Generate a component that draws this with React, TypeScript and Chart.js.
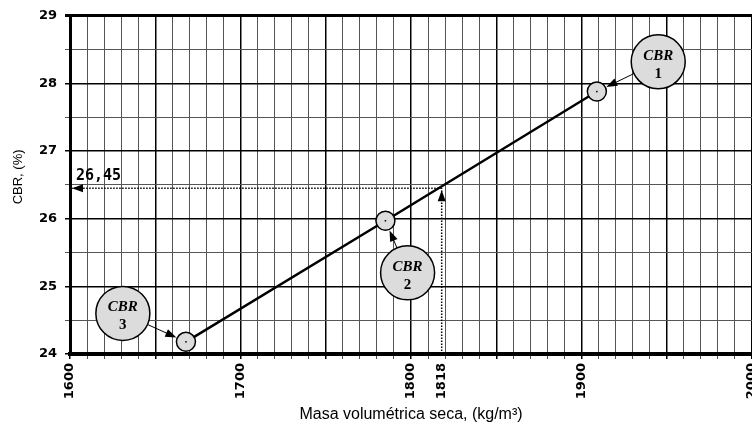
import React, { useEffect, useRef } from "react";
import { Chart, registerables } from "chart.js";

Chart.register(...registerables);

// ---- data ----
const sampleNames = ["1", "2", "3"];
const dryDensity = [1909, 1785, 1668]; // kg/m3
const cbrValues = [27.88, 25.97, 24.18]; // %
const calloutX = [1945, 1798, 1631];
const calloutY = [28.32, 25.2, 24.6];
const readX = 1818;
const readY = 26.45;
const readLabel = "26,45";
const xMin = 1600;
const xMax = 2000;
const yMin = 24;
const yMax = 29;
const xTickLabels = [1600, 1700, 1800, 1818, 1900, 2000];
const yTickLabels = [24, 25, 26, 27, 28, 29];
const yTitle = "CBR, (%)";
const xTitle = "Masa volumétrica seca, (kg/m³)";

function arrowHead(ctx: CanvasRenderingContext2D, tx: number, ty: number, ang: number, len: number, w: number) {
  ctx.beginPath();
  ctx.moveTo(tx, ty);
  ctx.lineTo(tx - len * Math.cos(ang) + w * Math.sin(ang), ty - len * Math.sin(ang) - w * Math.cos(ang));
  ctx.lineTo(tx - len * Math.cos(ang) - w * Math.sin(ang), ty - len * Math.sin(ang) + w * Math.cos(ang));
  ctx.closePath();
  ctx.fill();
}

const annotPlugin = {
  id: "annot",
  afterDatasetsDraw(chart: any) {
    const ctx: CanvasRenderingContext2D = chart.ctx;
    const xs = chart.scales.x;
    const ys = chart.scales.y;
    ctx.save();
    ctx.fillStyle = "#000";
    // y axis title
    ctx.save();
    ctx.translate(18, (chart.chartArea.top + chart.chartArea.bottom) / 2 - 8);
    ctx.rotate(-Math.PI / 2);
    ctx.font = "13px 'Liberation Sans'";
    ctx.textAlign = "center";
    ctx.textBaseline = "middle";
    ctx.fillText(yTitle, 0, 0);
    ctx.restore();
    // reading arrows
    const rx = xs.getPixelForValue(readX);
    const ry = ys.getPixelForValue(readY);
    arrowHead(ctx, rx, ry + 2, -Math.PI / 2, 11, 4);
    const lx = xs.getPixelForValue(xMin);
    arrowHead(ctx, lx + 2, ry, Math.PI, 11, 4);
    ctx.font = "bold 15px 'DejaVu Sans Mono'";
    ctx.textAlign = "left";
    ctx.textBaseline = "alphabetic";
    ctx.fillText(readLabel, lx + 6, ry - 8);
    // center dots in the points
    for (let i = 0; i < dryDensity.length; i++) {
      const px = xs.getPixelForValue(dryDensity[i]);
      const py = ys.getPixelForValue(cbrValues[i]);
      ctx.fillRect(px - 0.75, py - 0.75, 1.5, 1.5);
    }
    // callouts
    const R = 27;
    for (let i = 0; i < dryDensity.length; i++) {
      const px = xs.getPixelForValue(dryDensity[i]);
      const py = ys.getPixelForValue(cbrValues[i]);
      const cx = xs.getPixelForValue(calloutX[i]);
      const cy = ys.getPixelForValue(calloutY[i]);
      const dx = px - cx;
      const dy = py - cy;
      const d = Math.hypot(dx, dy);
      const ux = dx / d;
      const uy = dy / d;
      const sx = cx + ux * R;
      const sy = cy + uy * R;
      const ex = px - ux * 10.5;
      const ey = py - uy * 10.5;
      const ang = Math.atan2(uy, ux);
      ctx.strokeStyle = "#000";
      ctx.lineWidth = 1;
      ctx.beginPath();
      ctx.moveTo(sx, sy);
      ctx.lineTo(ex - ux * 8, ey - uy * 8);
      ctx.stroke();
      arrowHead(ctx, ex, ey, ang, 11, 4);
      ctx.beginPath();
      ctx.arc(cx, cy, R, 0, Math.PI * 2);
      ctx.fillStyle = "#dcdcdc";
      ctx.fill();
      ctx.lineWidth = 1.5;
      ctx.stroke();
      ctx.fillStyle = "#000";
      ctx.textAlign = "center";
      ctx.textBaseline = "middle";
      ctx.font = "italic bold 15px 'Liberation Serif'";
      ctx.fillText("CBR", cx, cy - 6);
      ctx.font = "bold 15px 'Liberation Serif'";
      ctx.fillText(sampleNames[i], cx, cy + 12);
    }
    ctx.restore();
  },
};

export default function App() {
  const ref = useRef<HTMLCanvasElement | null>(null);
  useEffect(() => {
    document.body.style.margin = "0";
    const canvas = ref.current!;
    const xTicks: number[] = [];
    for (let v = xMin; v <= xMax; v += 10) {
      xTicks.push(v);
      if (v === 1810) xTicks.push(readX);
    }
    const yTicks: number[] = [];
    for (let v = yMin; v <= yMax + 1e-9; v += 0.5) yTicks.push(v);

    const chart = new Chart(canvas, {
      type: "scatter",
      data: {
        datasets: [
          {
            data: [
              { x: readX, y: yMin },
              { x: readX, y: readY },
            ],
            showLine: true,
            borderColor: "#000",
            borderWidth: 1.5,
            borderDash: [1.5, 1.5],
            pointRadius: 0,
          },
          {
            data: [
              { x: readX, y: readY },
              { x: xMin, y: readY },
            ],
            showLine: true,
            borderColor: "#000",
            borderWidth: 1.5,
            borderDash: [1.5, 1.5],
            pointRadius: 0,
          },
          {
            data: dryDensity.map((x, i) => ({ x, y: cbrValues[i] })),
            showLine: true,
            borderColor: "#000",
            borderWidth: 2.5,
            pointRadius: 9.5,
            pointBackgroundColor: "#dcdcdc",
            pointBorderColor: "#000",
            pointBorderWidth: 1.5,
          },
        ],
      },
      options: {
        animation: false,
        responsive: false,
        devicePixelRatio: 1,
        layout: { autoPadding: false, padding: { top: 14, right: 0, left: 0, bottom: 0 } },
        plugins: { legend: { display: false }, tooltip: { enabled: false } },
        scales: {
          x: {
            type: "linear",
            min: xMin,
            max: xMax,
            afterBuildTicks: (s: any) => {
              s.ticks = xTicks.map((v) => ({ value: v }));
            },
            afterFit: (s: any) => {
              s.height = 69;
              s.paddingRight = 0;
              s.paddingLeft = 0;
            },
            ticks: {
              autoSkip: false,
              minRotation: 90,
              maxRotation: 90,
              padding: 4,
              color: "#000",
              font: { family: "'DejaVu Sans'", size: 13, weight: "bold" },
              callback: (v: any) => (xTickLabels.includes(Number(v)) ? String(v) : ""),
            },
            grid: {
              tickLength: 5,
              color: (c: any) => {
                const v = c.tick ? c.tick.value : 0;
                if (v === readX) return "rgba(0,0,0,0)";
                return v % 50 === 0 ? "#000" : "#555";
              },
              lineWidth: (c: any) => {
                const v = c.tick ? c.tick.value : 0;
                return v % 50 === 0 ? 1.5 : 1;
              },
            },
            border: { color: "#000", width: 4 },
            title: {
              display: true,
              text: xTitle,
              color: "#000",
              font: { family: "'Liberation Sans'", size: 16, lineHeight: 1 },
              padding: 0,
            },
          },
          y: {
            type: "linear",
            min: yMin,
            max: yMax,
            afterBuildTicks: (s: any) => {
              s.ticks = yTicks.map((v) => ({ value: v }));
            },
            afterFit: (s: any) => {
              s.width = 70;
            },
            ticks: {
              padding: 8,
              color: "#000",
              font: { family: "'DejaVu Sans'", size: 13, weight: "bold" },
              callback: (v: any) => (yTickLabels.includes(Number(v)) ? String(v) : ""),
            },
            grid: {
              tickLength: 5,
              color: (c: any) => {
                const v = c.tick ? c.tick.value : 0;
                return Number.isInteger(v) ? "#000" : "#555";
              },
              lineWidth: (c: any) => {
                const v = c.tick ? c.tick.value : 0;
                if (v === yMax) return 3;
                return Number.isInteger(v) ? 1.5 : 1;
              },
            },
            border: { color: "#000", width: 3 },
          },
        },
      },
      plugins: [annotPlugin],
    });
    return () => chart.destroy();
  }, []);
  return (
    <div style={{ position: "absolute", left: 0, top: 0, width: 752, height: 423 }}>
      <canvas ref={ref} width={752} height={423} style={{ width: 752, height: 423 }} />
    </div>
  );
}
